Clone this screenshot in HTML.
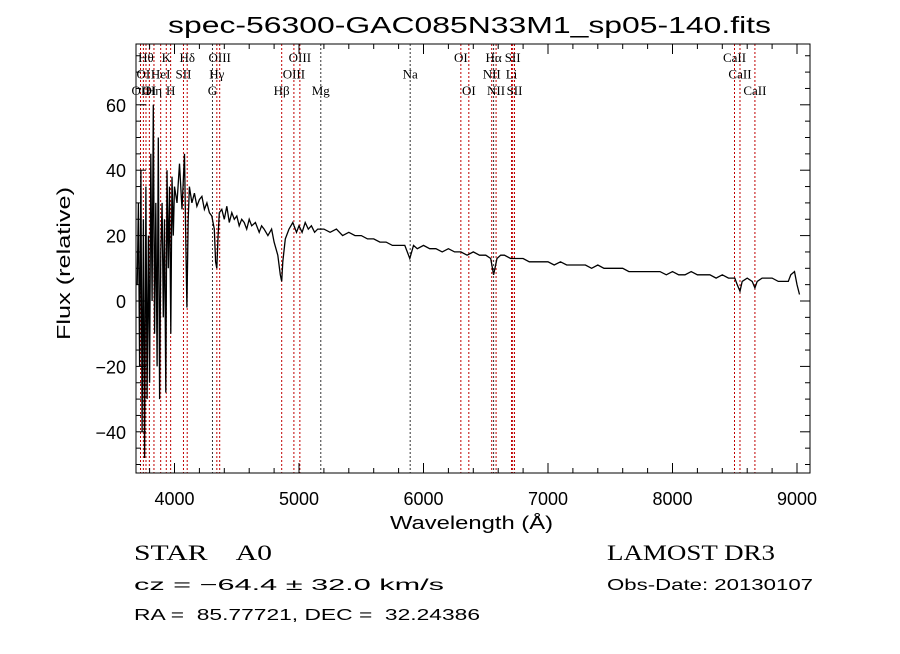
<!DOCTYPE html>
<html><head><meta charset="utf-8"><style>
body{margin:0;background:#fff;}
svg text{font-family:"Liberation Sans",sans-serif;}
</style></head><body>
<svg id="c" width="900" height="649" xmlns="http://www.w3.org/2000/svg">
<rect width="900" height="649" fill="#fff"/>
<text x="168" y="33" font-size="23" textLength="603" lengthAdjust="spacingAndGlyphs">spec-56300-GAC085N33M1_sp05-140.fits</text>
<defs><clipPath id="pc"><rect x="136" y="44" width="674" height="429"/></clipPath></defs>
<g id="lines" clip-path="url(#pc)"></g>
<g id="labels"></g>
<g id="spec" clip-path="url(#pc)"></g>
<g id="axes"></g>
<text x="0" y="0" transform="translate(70,340) rotate(-90)" font-size="18" textLength="153" lengthAdjust="spacingAndGlyphs">Flux (relative)</text>
<text x="390" y="529" font-size="18" textLength="163" lengthAdjust="spacingAndGlyphs">Wavelength (Å)</text>
<text x="134" y="560" font-size="22" textLength="138" lengthAdjust="spacingAndGlyphs" style="font-family:'Liberation Serif',serif" xml:space="preserve">STAR    A0</text>
<text x="607" y="560" font-size="22" textLength="168" lengthAdjust="spacingAndGlyphs" style="font-family:'Liberation Serif',serif">LAMOST DR3</text>
<text x="134" y="590" font-size="16" textLength="310" lengthAdjust="spacingAndGlyphs">cz = −64.4 ± 32.0 km/s</text>
<text x="607" y="590" font-size="16" textLength="206" lengthAdjust="spacingAndGlyphs">Obs-Date: 20130107</text>
<text x="134" y="620" font-size="16" textLength="346" lengthAdjust="spacingAndGlyphs" xml:space="preserve">RA =  85.77721, DEC =  32.24386</text>
</svg>
<script>
const wave=[3700,3710,3720,3730,3740,3750,3760,3770,3780,3790,3800,3810,3820,3830,3840,3850,3860,3870,3880,3890,3900,3910,3920,3930,3940,3950,3960,3970,3980,3990,4000,4020,4040,4060,4080,4090,4100,4110,4120,4140,4160,4180,4200,4220,4240,4260,4280,4300,4320,4330,4340,4350,4360,4380,4400,4420,4440,4460,4480,4500,4520,4540,4560,4580,4600,4620,4650,4680,4700,4720,4750,4780,4800,4830,4850,4861,4870,4890,4920,4950,4980,5000,5025,5050,5075,5100,5125,5150,5200,5250,5300,5350,5400,5450,5500,5550,5600,5650,5700,5750,5800,5850,5890,5920,5950,6000,6050,6100,6150,6200,6250,6300,6350,6400,6450,6500,6540,6563,6590,6620,6650,6700,6750,6800,6850,6900,6950,7000,7050,7100,7150,7200,7250,7300,7350,7400,7450,7500,7550,7600,7650,7700,7750,7800,7850,7900,7950,8000,8050,8100,8150,8200,8250,8300,8350,8400,8450,8500,8520,8542,8560,8600,8640,8662,8680,8720,8760,8800,8850,8900,8930,8950,8980,9000,9020];
const flux=[5,30,-20,40,-40,25,-48,35,-30,20,-25,45,0,60,-10,30,-20,50,-30,15,30,-5,25,-28,40,10,35,-10,38,20,35,30,42,28,45,20,-2,25,35,30,33,29,31,32,28,30,27,26,22,12,10,20,27,28,25,29,24,27,25,26,23,25,24,22,25,23,24,21,23,22,20,22,18,14,8,6,12,19,22,24,21,23,21,24,22,23,21,22,22,21,22,20,21,20,20,19,19,18,18,17,17,17,13,17,16,17,16,16,15,16,15,15,14,15,14,14,13,8,13,14,14,13,13,13,12,12,12,12,11,12,11,11,11,11,10,11,10,10,10,10,9,9,9,9,9,9,8,9,8,8,9,8,8,8,7,8,7,7,5,3,6,7,6,4,6,7,7,7,6,6,6,8,9,5,2];
const lineW=[3727,3750,3771,3798,3835,3889,3934,3969,4072,4102,4305,4340,4363,4861,4959,5007,5175,5893,6300,6364,6548,6563,6583,6707,6716,6731,8498,8542,8662];
const lineLab=["OII","OI","Hθ","OI","Hη","HeI","K","H","SII","Hδ","G","Hγ","OIII","Hβ","OIII","OIII","Mg","Na","OI","OI","NII","Hα","NII","Li","SII","SII","CaII","CaII","CaII"];
const lineRow=[2,1,0,2,2,1,0,2,1,0,2,1,0,2,1,0,2,1,0,2,1,0,2,1,0,2,0,1,2];
const blackLines=["Mg","Na","G","Hα"];
const yTicks=[-40,-20,0,20,40,60];
const xTicks=[4000,5000,6000,7000,8000,9000];
const L=136,R=810,T=44,B=473;
const X=w=>174.5+(w-4000)*0.1245;
const Y=f=>301-(f)*3.27;
const NS="http://www.w3.org/2000/svg";
function mk(t,a,p){const e=document.createElementNS(NS,t);for(const k in a)e.setAttribute(k,a[k]);p.appendChild(e);return e;}
const lg=document.getElementById('lines');
const lb=document.getElementById('labels');
lineW.forEach((w,i)=>{
 const col=blackLines.includes(lineLab[i])?"#333":"#c00000";
 const ln=mk('line',{x1:X(w),x2:X(w),y1:T,y2:B,stroke:col,'stroke-width':1,'stroke-dasharray':'2,2'},lg);
 
 
 const tx=mk('text',{x:X(w),y:62+lineRow[i]*16.5,'font-size':13,'text-anchor':'middle',style:"font-family:'Liberation Serif',serif"},lb);
 tx.textContent=lineLab[i];
 
 
});
const sg=document.getElementById('spec');
const pl=mk('polyline',{points:wave.map((w,i)=>X(w).toFixed(1)+','+Y(flux[i]).toFixed(1)).join(' '),fill:'none',stroke:'#000','stroke-width':1.3},sg);


const ax=document.getElementById('axes');
const fr=mk('rect',{x:L,y:T,width:R-L,height:B-T,fill:'none',stroke:'#000','stroke-width':1},ax);


for(let w=3800;w<=9100;w+=200){const maj=w%1000===0;const len=maj?10:5;
 mk('line',{x1:X(w),x2:X(w),y1:B,y2:B-len,stroke:'#000'},ax);mk('line',{x1:X(w),x2:X(w),y1:T,y2:T+len,stroke:'#000'},ax);}
for(let v=-50;v<=75;v+=5){const maj=v%20===0;const len=maj?10:5;
 mk('line',{x1:L,x2:L+len,y1:Y(v),y2:Y(v),stroke:'#000'},ax);mk('line',{x1:R,x2:R-len,y1:Y(v),y2:Y(v),stroke:'#000'},ax);}
xTicks.forEach(v=>{const t=mk('text',{x:X(v),y:505,'font-size':18,'text-anchor':'middle'},ax);t.textContent=v;
 
 });
yTicks.forEach(v=>{const t=mk('text',{x:126,y:Y(v)+7,'font-size':18,'text-anchor':'end'},ax);t.textContent=v<0?'−'+(-v):v;
 
 });
</script>
</body></html>
